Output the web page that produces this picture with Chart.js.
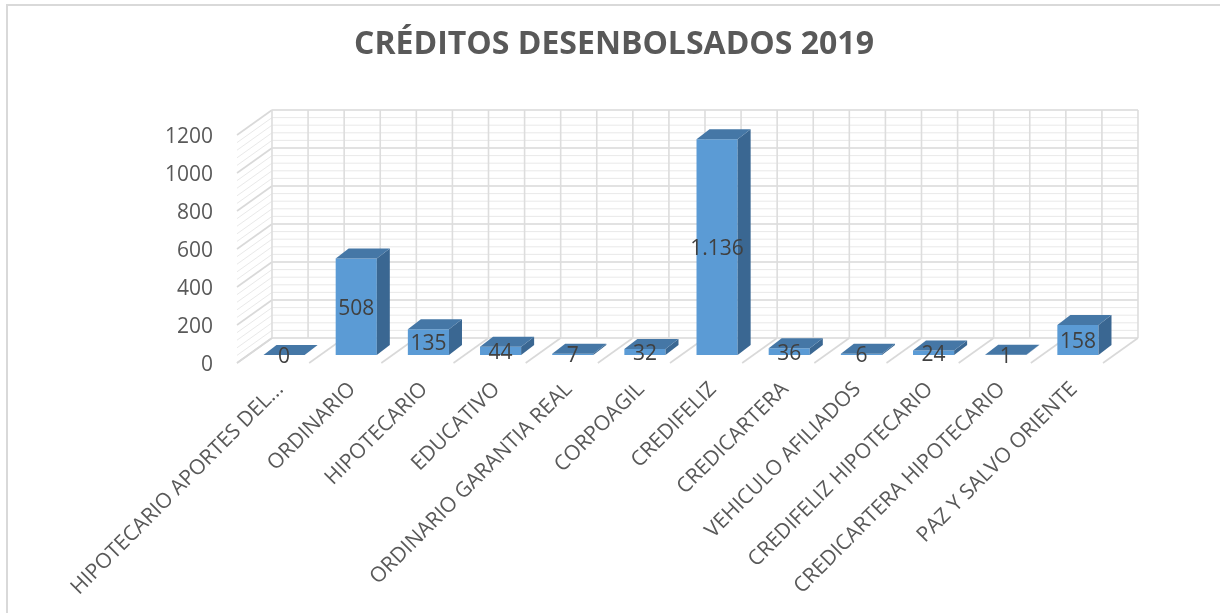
<!DOCTYPE html>
<html>
<head>
<meta charset="utf-8">
<script src="https://cdn.jsdelivr.net/npm/chart.js@4.4.1/dist/chart.umd.min.js"></script>
<style>
  html, body { margin: 0; padding: 0; background: #fff; }
</style>
</head>
<body>
<canvas id="creditosChart" width="1220" height="613"></canvas>
<script>
    let categorias = ["HIPOTECARIO APORTES DEL...", "ORDINARIO", "HIPOTECARIO", "EDUCATIVO",
        "ORDINARIO GARANTIA REAL", "CORPOAGIL", "CREDIFELIZ", "CREDICARTERA",
        "VEHICULO AFILIADOS", "CREDIFELIZ HIPOTECARIO", "CREDICARTERA HIPOTECARIO", "PAZ Y SALVO ORIENTE"];
    let creditos = [0, 508, 135, 44, 7, 32, 1136, 36, 6, 24, 1, 158];
    let ticksY = [0, 200, 400, 600, 800, 1000, 1200];

    // desplazamientos de la perspectiva (px)
    let fondo = { dx: 24, dy: -17 };
    let piso = { dx: -11, dy: 8 };
    let prof = { dx: 13, dy: -10 };

    function formato(v) {
        return String(v).replace(/\B(?=(\d{3})+(?!\d))/g, ".");
    }

    function linea(ctx, x1, y1, x2, y2, color, ancho) {
        ctx.beginPath();
        ctx.strokeStyle = color;
        ctx.lineWidth = ancho;
        ctx.moveTo(x1, y1);
        ctx.lineTo(x2, y2);
        ctx.stroke();
    }

    let efecto3d = {
        id: "efecto3d",
        beforeDraw(chart) {
            let ctx = chart.ctx;
            ctx.save();
            ctx.fillStyle = "#fff";
            ctx.fillRect(0, 0, chart.width, chart.height);
            linea(ctx, 6, 5, chart.width, 5, "#d9d9d9", 2);
            linea(ctx, 7, 5, 7, chart.height, "#d9d9d9", 2);
            ctx.restore();
        },
        beforeDatasetsDraw(chart) {
            let ctx = chart.ctx;
            let a = chart.chartArea;
            let y = chart.scales.y;
            let max = ticksY[ticksY.length - 1];
            ctx.save();
            // lineas menores primero, luego las mayores
            for (let pasada = 0; pasada < 2; pasada++) {
                for (let v = 0; v <= max; v += 40) {
                    let mayor = v % 200 === 0;
                    if (mayor !== (pasada === 1)) continue;
                    let py = y.getPixelForValue(v);
                    let color = mayor ? "#d9d9d9" : "#e9e9e9";
                    let ancho = mayor ? 1.6 : 1;
                    linea(ctx, a.left + fondo.dx, py + fondo.dy, a.right + fondo.dx, py + fondo.dy, color, ancho);
                    linea(ctx, a.left + fondo.dx, py + fondo.dy, a.left + piso.dx, py + piso.dy, color, ancho);
                }
            }
            let n = categorias.length;
            for (let i = 0; i <= n * 2; i++) {
                let px = a.left + i * a.width / (n * 2) + fondo.dx;
                linea(ctx, px, a.top + fondo.dy, px, a.bottom + fondo.dy, "#dddddd", 1.6);
            }
            for (let i = 0; i <= n; i++) {
                let px = a.left + i * a.width / n;
                linea(ctx, px + fondo.dx, a.bottom + fondo.dy, px + piso.dx, a.bottom + piso.dy, "#d9d9d9", 1.6);
            }
            ctx.restore();
        },
        afterDatasetsDraw(chart) {
            let ctx = chart.ctx;
            let barras = chart.getDatasetMeta(0).data;
            ctx.save();
            barras.forEach(function (b) {
                let x0 = b.x - b.width / 2;
                let x1 = b.x + b.width / 2;
                // cara lateral
                ctx.fillStyle = "#3a6792";
                ctx.beginPath();
                ctx.moveTo(x1, b.base);
                ctx.lineTo(x1, b.y);
                ctx.lineTo(x1 + prof.dx, b.y + prof.dy);
                ctx.lineTo(x1 + prof.dx, b.base + prof.dy);
                ctx.closePath();
                ctx.fill();
                // cara superior
                ctx.fillStyle = "#4577a6";
                ctx.beginPath();
                ctx.moveTo(x0, b.y);
                ctx.lineTo(x1, b.y);
                ctx.lineTo(x1 + prof.dx, b.y + prof.dy);
                ctx.lineTo(x0 + prof.dx, b.y + prof.dy);
                ctx.closePath();
                ctx.fill();
            });
            ctx.font = "21px 'Open Sans'";
            ctx.fillStyle = "#404040";
            ctx.textAlign = "center";
            ctx.textBaseline = "middle";
            barras.forEach(function (b, i) {
                ctx.fillText(formato(creditos[i]), b.x, (b.y + b.base) / 2 + 2);
            });
            ctx.restore();
        }
    };

    let ctx = document.getElementById("creditosChart").getContext("2d");

    new Chart(ctx, {
        type: "bar",
        data: {
            labels: categorias,
            datasets: [{
                data: creditos,
                backgroundColor: "#5b9bd5",
                barPercentage: 0.57,
                categoryPercentage: 1
            }]
        },
        options: {
            responsive: false,
            animation: false,
            devicePixelRatio: 1,
            layout: { padding: { left: 8, right: 0, top: 0, bottom: 0 } },
            plugins: {
                legend: { display: false },
                tooltip: { enabled: false },
                title: {
                    display: true,
                    text: "CRÉDITOS DESENBOLSADOS 2019",
                    color: "#595959",
                    font: { family: "'Open Sans'", size: 32, weight: "bold" },
                    padding: { top: 26, bottom: 62.6 }
                }
            },
            scales: {
                x: {
                    grid: { display: false },
                    border: { display: false },
                    ticks: {
                        autoSkip: false,
                        minRotation: 45,
                        maxRotation: 45,
                        padding: 14,
                        labelOffset: -4,
                        color: "#595959",
                        font: { family: "'Open Sans'", size: 21 }
                    },
                    afterFit(scale) {
                        scale.height = 258;
                        scale.paddingLeft = 0;
                        scale.paddingRight = 106;
                    }
                },
                y: {
                    min: 0,
                    max: 1200,
                    grid: { display: false, drawTicks: false },
                    border: { display: false },
                    afterBuildTicks(scale) {
                        scale.ticks = ticksY.map(function (v) { return { value: v }; });
                    },
                    ticks: {
                        padding: 35,
                        labelOffset: 10,
                        color: "#595959",
                        font: { family: "'Open Sans'", size: 21 },
                        callback: function (v) { return String(v); }
                    },
                    afterFit(scale) {
                        scale.width = 240;
                    }
                }
            }
        },
        plugins: [efecto3d]
    });
</script>
</body>
</html>
